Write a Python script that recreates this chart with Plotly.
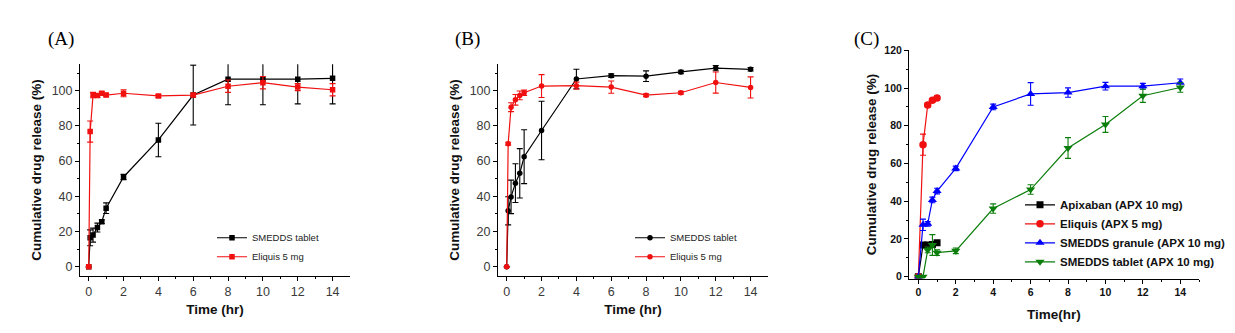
import plotly.graph_objects as go

# ---------------- Data ----------------
# Panel A
a_time_smedds = [0, 0.083, 0.25, 0.5, 0.75, 1, 2, 4, 6, 8, 10, 12, 14]
a_smedds = [0, 16.5, 18, 22.3, 25.6, 33.3, 51, 72, 97.5, 106.5, 106.5, 106.5, 107]
a_smedds_err = [0, 4.5, 4, 2.5, 1, 3, 1.5, 9.5, 17, 14.5, 14.5, 14, 14.5]
a_time_eliquis = [0, 0.083, 0.25, 0.5, 0.75, 1, 2, 4, 6, 8, 10, 12, 14]
a_eliquis = [0, 76.8, 97.5, 97.2, 98.5, 97.5, 98.5, 97, 97.5, 102.5, 104.5, 102, 100.5]
a_eliquis_err = [0, 6, 1.5, 1, 1, 1, 2, 0.8, 1, 3.5, 3.5, 2, 3.5]

# Panel B
b_time_smedds = [0, 0.083, 0.25, 0.5, 0.75, 1, 2, 4, 6, 8, 10, 12, 14]
b_smedds = [0, 31.8, 39.7, 47.5, 53.1, 62.5, 77.4, 106.6, 108.5, 108.2, 110.6, 112.8, 112.1]
b_smedds_err = [0, 8, 9.5, 11, 14, 15.3, 16.6, 5.5, 1, 3, 1, 1.5, 1]
b_time_eliquis = [0, 0.083, 0.25, 0.5, 0.75, 1, 2, 4, 6, 8, 10, 12, 14]
b_eliquis = [0, 69.9, 90.6, 94.8, 97.3, 98.8, 102.6, 102.8, 102, 97.4, 98.8, 104.6, 101.8]
b_eliquis_err = [0, 0.8, 2.5, 3, 2.5, 1.5, 6.5, 2, 3.5, 0.8, 0.8, 6, 6]

# Panel C
c_time_apx = [0, 0.25, 0.5, 0.75, 1]
c_apx = [0, 16.8, 16.8, 17, 18]
c_apx_err = [0, 0.8, 0.8, 0.8, 0.8]
c_time_eli = [0, 0.25, 0.5, 0.75, 1]
c_eli = [0, 70, 91, 93.5, 94.7]
c_eli_err = [0, 5.6, 1, 1, 1]
c_time_gran = [0, 0.25, 0.5, 0.75, 1, 2, 4, 6, 8, 10, 12, 14]
c_gran = [0, 27.5, 28, 40.7, 45.4, 57.4, 90, 96.9, 97.6, 101, 101, 102.8]
c_gran_err = [0, 3, 1.2, 1.5, 1.5, 1.2, 1.5, 6, 2.5, 2, 1.5, 2]
c_time_tab = [0, 0.25, 0.5, 0.75, 1, 2, 4, 6, 8, 10, 12, 14]
c_tab = [0, 0, 14.2, 16.8, 12.7, 13.7, 36.1, 46.2, 68.2, 80.7, 95.9, 100.3]
c_tab_err = [0, 0, 1.5, 5.5, 1.5, 1.5, 2.5, 2.5, 5.5, 4.2, 3.5, 2.5]

x_ticks = [0, 2, 4, 6, 8, 10, 12, 14]
x_minor = [1, 3, 5, 7, 9, 11, 13]
ab_y_ticks = [0, 20, 40, 60, 80, 100]
c_y_ticks = [0, 20, 40, 60, 80, 100, 120]
y_minor = [10, 30, 50, 70, 90, 110]

RED = "#f01010"
BLACK = "#000000"
BLUE = "#0000ff"
GREEN = "#0a7d0a"

fig = go.Figure()


def add(x, y, err, color, name, symbol, size, xa, ya, legend):
    fig.add_trace(go.Scatter(
        x=x, y=y, name=name, mode="lines+markers",
        line=dict(color=color, width=1.2),
        marker=dict(color=color, symbol=symbol, size=size),
        error_y=dict(type="data", array=err, visible=True, color=color, thickness=1.1, width=3),
        xaxis=xa, yaxis=ya, legend=legend, cliponaxis=True,
    ))


add(a_time_smedds, a_smedds, a_smedds_err, BLACK, "SMEDDS tablet", "square", 5.5, "x", "y", "legend")
add(a_time_eliquis, a_eliquis, a_eliquis_err, RED, "Eliquis 5 mg", "square", 5.5, "x", "y", "legend")
add(b_time_smedds, b_smedds, b_smedds_err, BLACK, "SMEDDS tablet", "circle", 5.5, "x2", "y2", "legend2")
add(b_time_eliquis, b_eliquis, b_eliquis_err, RED, "Eliquis 5 mg", "circle", 5.5, "x2", "y2", "legend2")
add(c_time_apx, c_apx, c_apx_err, BLACK, "Apixaban (APX 10 mg)", "square", 7, "x3", "y3", "legend3")
add(c_time_eli, c_eli, c_eli_err, RED, "Eliquis (APX 5 mg)", "circle", 7.5, "x3", "y3", "legend3")
add(c_time_gran, c_gran, c_gran_err, BLUE, "SMEDDS granule (APX 10 mg)", "triangle-up", 8, "x3", "y3", "legend3")
add(c_time_tab, c_tab, c_tab_err, GREEN, "SMEDDS tablet (APX 10 mg)", "triangle-down", 8, "x3", "y3", "legend3")

W, H = 1235, 333


def px_x(p):
    return p / W


def px_y(p):
    return (H - p) / H


FAM = "Arial, Liberation Sans, sans-serif"
ab_tick_font = dict(family=FAM, size=12.5, color="#3a3a3a")
ab_title_font = dict(family=FAM, size=13.5, color="#111111")
c_tick_font = dict(family=FAM, size=10.5, color="#111111")
c_title_font = dict(family=FAM, size=13.5, color="#111111")

common_axis = dict(showline=True, linecolor="black", linewidth=1, ticks="outside",
                   ticklen=4, tickwidth=1, tickcolor="black", showgrid=False, zeroline=False,
                   mirror=False)


def minor(vals):
    return dict(tickvals=vals, ticklen=2.5, ticks="outside", tickcolor="black", tickwidth=1)


fig.update_layout(
    width=W, height=H, margin=dict(l=0, r=0, t=0, b=0),
    paper_bgcolor="white", plot_bgcolor="white", showlegend=True,
    xaxis=dict(common_axis, domain=[px_x(80), px_x(350)], anchor="y", range=[-0.5, 15],
               tickvals=x_ticks, tickfont=ab_tick_font, minor=minor(x_minor),
               title=dict(text="<b>Time (hr)</b>", font=ab_title_font, standoff=6)),
    yaxis=dict(common_axis, domain=[px_y(278), px_y(60)], anchor="x", range=[-5, 115],
               tickvals=ab_y_ticks, tickfont=ab_tick_font, minor=minor(y_minor),
               title=dict(text="<b>Cumulative drug release (%)</b>", font=ab_title_font, standoff=6)),
    xaxis2=dict(common_axis, domain=[px_x(498), px_x(768)], anchor="y2", range=[-0.5, 15],
                tickvals=x_ticks, tickfont=ab_tick_font, minor=minor(x_minor),
                title=dict(text="<b>Time (hr)</b>", font=ab_title_font, standoff=6)),
    yaxis2=dict(common_axis, domain=[px_y(278), px_y(60)], anchor="x2", range=[-5, 115],
                tickvals=ab_y_ticks, tickfont=ab_tick_font, minor=minor(y_minor),
                title=dict(text="<b>Cumulative drug release (%)</b>", font=ab_title_font, standoff=6)),
    xaxis3=dict(common_axis, domain=[px_x(909), px_x(1199)], anchor="y3", range=[-0.5, 15],
                tickvals=x_ticks, ticktext=[f"<b>{v}</b>" for v in x_ticks], tickfont=c_tick_font,
                minor=minor(x_minor + [15]),
                title=dict(text="<b>Time(hr)</b>", font=c_title_font, standoff=12)),
    yaxis3=dict(common_axis, domain=[px_y(281), px_y(45.7)], anchor="x3", range=[-1, 120],
                tickvals=c_y_ticks, ticktext=[f"<b>{v}</b>" for v in c_y_ticks],
                tickfont=c_tick_font, minor=minor(y_minor),
                title=dict(text="<b>Cumulative drug release (%)</b>", font=c_title_font, standoff=4)),
    legend=dict(x=px_x(212), y=px_y(224), xanchor="left", yanchor="top", bgcolor="rgba(0,0,0,0)",
                font=dict(family=FAM, size=9.5, color="#222222"),
                itemwidth=30, tracegroupgap=0),
    legend2=dict(x=px_x(630), y=px_y(224), xanchor="left", yanchor="top", bgcolor="rgba(0,0,0,0)",
                 font=dict(family=FAM, size=9.5, color="#222222"),
                 itemwidth=30, tracegroupgap=0),
    legend3=dict(x=px_x(1020), y=px_y(190), xanchor="left", yanchor="top", bgcolor="rgba(0,0,0,0)",
                 font=dict(family=FAM, size=11.5, color="#111111", weight="bold"),
                 itemwidth=30, tracegroupgap=0),
)

serif = dict(family="Times New Roman, Liberation Serif, serif", size=19, color="black")
for label, xp in [("(A)", 46), ("(B)", 453), ("(C)", 852)]:
    fig.add_annotation(text=label, x=px_x(xp), y=px_y(34), xref="paper", yref="paper",
                       xanchor="left", yanchor="middle", showarrow=False, font=serif)

fig.write_html("out.html")
